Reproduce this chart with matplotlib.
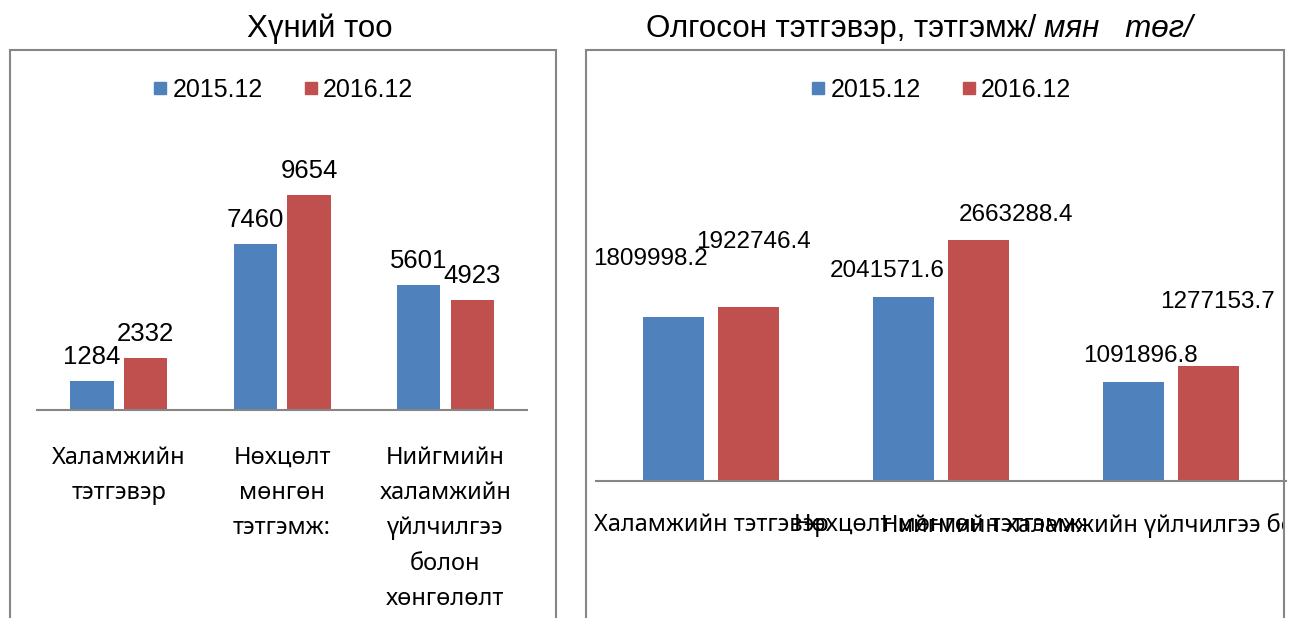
import matplotlib
matplotlib.use("Agg")
import matplotlib.pyplot as plt
import numpy as np
from matplotlib import font_manager
from matplotlib.lines import Line2D
from matplotlib.patches import Rectangle
from matplotlib.transforms import Bbox, TransformedBbox

# -----------------------------
# Data
# -----------------------------
series = ["2015.12", "2016.12"]

people_cats = ["Халамжийн\nтэтгэвэр", "Нөхцөлт\nмөнгөн\nтэтгэмж:",
               "Нийгмийн\nхаламжийн\nүйлчилгээ\nболон\nхөнгөлөлт"]
people_2015 = [1284, 7460, 5601]
people_2016 = [2332, 9654, 4923]

money_cats = ["Халамжийн тэтгэвэр", "Нөхцөлт мөнгөн тэтгэмж:",
              "Нийгмийн халамжийн үйлчилгээ болон хөнгөлөлт"]
money_2015 = [1809998.2, 2041571.6, 1091896.8]
money_2016 = [1922746.4, 2663288.4, 1277153.7]

# -----------------------------
# Style
# -----------------------------
plt.rcParams["font.family"] = ["Liberation Sans", "DejaVu Sans"]
names = {f.name for f in font_manager.fontManager.ttflist}
cat_font = ["Liberation Sans Narrow", "DejaVu Sans"] if "Liberation Sans Narrow" in names \
    else ["Noto Sans", "DejaVu Sans"]

BLUE = "#4F81BD"
RED = "#C0504D"
GRAY = "#868686"

W, H = 1300, 618
fig = plt.figure(figsize=(W / 100, H / 100), dpi=100)


def fx(px):
    return px / W


def fy(py):
    return 1 - py / H


# chart frames (bottom runs off the picture)
for x0, x1 in [(10, 556), (586, 1284)]:
    fig.patches.append(Rectangle((fx(x0), fy(640)), fx(x1 - x0), (640 - 50) / H,
                                 transform=fig.transFigure, fill=False,
                                 edgecolor=GRAY, linewidth=1.5))

# titles
fig.text(fx(320), fy(29), "Хүний тоо", ha="center", va="center", fontsize=22.5)
t1 = fig.text(fx(646), fy(29), "Олгосон тэтгэвэр, тэтгэмж/", ha="left", va="center",
              fontsize=22.5)
fig.add_artist(matplotlib.text.Annotation("мян   төг/", xy=(1, 0.5), xycoords=t1,
                                          xytext=(8, 0), textcoords="offset pixels",
                                          ha="left", va="center", fontsize=22.5,
                                          style="italic"))


def make_axes(x0, x1, ytop, ybase):
    ax = fig.add_axes([fx(x0), fy(ybase), fx(x1 - x0), (ybase - ytop) / H])
    ax.set_xlim(-0.5, 2.5)
    for s in ["top", "left", "right"]:
        ax.spines[s].set_visible(False)
    ax.spines["bottom"].set_color(GRAY)
    ax.spines["bottom"].set_linewidth(1.5)
    ax.set_yticks([])
    ax.tick_params(axis="x", length=0)
    ax.patch.set_visible(False)
    return ax


def legend(ax, xc):
    handles = [Line2D([0], [0], marker="s", linestyle="", markersize=9,
                      color=c, label=s) for c, s in zip([BLUE, RED], series)]
    ax.legend(handles=handles, ncol=2, loc="center", frameon=False,
              bbox_to_anchor=(fx(xc), fy(90)), bbox_transform=fig.transFigure,
              fontsize=18, handlelength=0.6, handletextpad=0.2, columnspacing=1.6)


# -----------------------------
# Left: number of people
# -----------------------------
ax1 = make_axes(37, 527, 143, 410)
x = np.arange(len(people_cats))
ax1.bar(x - 0.163, people_2015, width=0.265, color=BLUE)
ax1.bar(x + 0.165, people_2016, width=0.265, color=RED)
ax1.set_ylim(0, 12000)
ax1.set_xticks(x)
ax1.set_xticklabels(people_cats, family=cat_font, fontsize=17, linespacing=1.62,
                    va="top")
ax1.tick_params(axis="x", pad=26)
for xi, v in zip(x - 0.163, people_2015):
    ax1.annotate(str(v), (xi, v), xytext=(0, 24), textcoords="offset pixels",
                 ha="center", va="center", fontsize=18.5)
for xi, v in zip(x + 0.165, people_2016):
    ax1.annotate(str(v), (xi, v), xytext=(0, 24), textcoords="offset pixels",
                 ha="center", va="center", fontsize=18.5)
legend(ax1, 283)

# -----------------------------
# Right: amount granted
# -----------------------------
ax2 = make_axes(596, 1286, 210, 481)
ax2.bar(x - 0.165, money_2015, width=0.265, color=BLUE)
ax2.bar(x + 0.165, money_2016, width=0.265, color=RED)
ax2.set_ylim(0, 3000000)
ax2.set_xticks(x)
ax2.set_xticklabels(money_cats, family=cat_font, fontsize=17, va="top")
ax2.tick_params(axis="x", pad=23)
# long label is cut by the chart frame
clip = TransformedBbox(Bbox([[fx(586), 0], [fx(1283), 1]]), fig.transFigure)
for t in ax2.get_xticklabels():
    t.set_clip_box(clip)
    t.set_clip_on(True)

offs_2015 = [(-23, 58), (-16, 26), (7, 26)]
offs_2016 = [(5, 65), (37, 25), (9, 64)]
for xi, v, o in zip(x - 0.165, money_2015, offs_2015):
    ax2.annotate(f"{v:.1f}", (xi, v), xytext=o, textcoords="offset pixels",
                 ha="center", va="center", fontsize=17.5)
for xi, v, o in zip(x + 0.165, money_2016, offs_2016):
    ax2.annotate(f"{v:.1f}", (xi, v), xytext=o, textcoords="offset pixels",
                 ha="center", va="center", fontsize=17.5)
legend(ax2, 941)

fig.savefig("out.png", dpi=100)
